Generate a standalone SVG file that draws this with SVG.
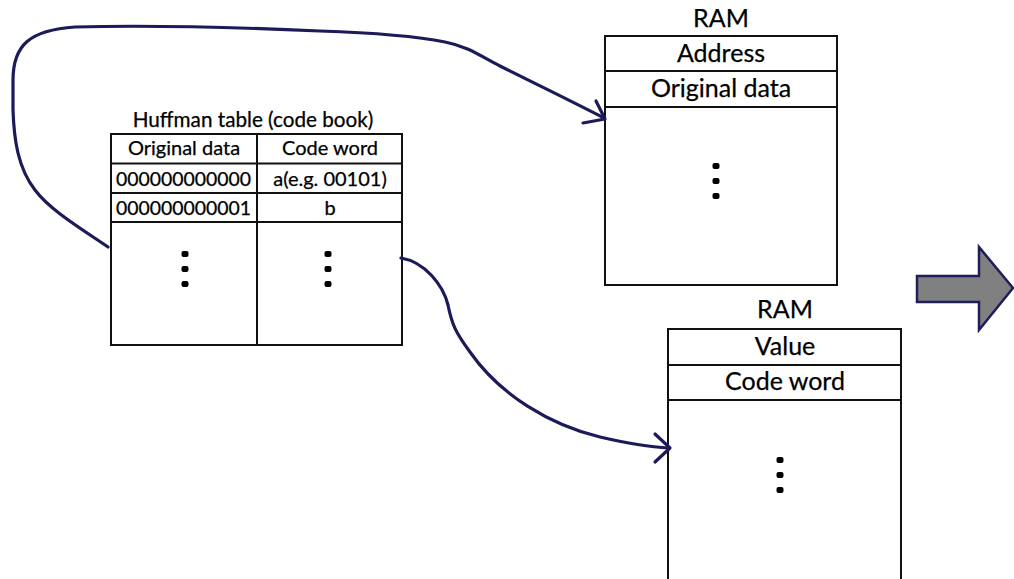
<svg xmlns="http://www.w3.org/2000/svg" width="1014" height="579" viewBox="0 0 1014 579">
<style>
.box{fill:#fff;stroke:#111;stroke-width:2}
.ln{stroke:#111;stroke-width:2;fill:none}
.t{font-family:Lato,"Liberation Sans",sans-serif;fill:#000;text-anchor:middle;stroke:#000;stroke-width:0.25}
.s{font-size:20px}
.n{font-size:19.4px}
.b{font-size:25px}
.dot{fill:#000}
.con{fill:none;stroke:#1c1a58;stroke-width:3.2;stroke-linecap:round;stroke-linejoin:round}
</style>
<defs>
<g id="dots"><rect x="-3.5" y="-3" width="7" height="6" rx="2" class="dot"/><rect x="-3.5" y="12" width="7" height="6" rx="2" class="dot"/><rect x="-3.5" y="27" width="7" height="6" rx="2" class="dot"/></g>
</defs>
<g id="huffman">
<text class="t" x="253" y="127" font-size="20.7">Huffman table (code book)</text>
<rect class="box" x="111" y="134" width="291" height="211"/>
<path class="ln" d="M111,163.5H402M111,193H402M111,222H402M257,134V345"/>
<text class="t s" x="184" y="155">Original data</text>
<text class="t s" x="330" y="155">Code word</text>
<text class="t n" x="183.5" y="186">000000000000</text>
<text class="t s" x="330" y="186">a(e.g. 00101)</text>
<text class="t n" x="183.5" y="215">000000000001</text>
<text class="t s" x="330" y="215">b</text>
<use href="#dots" x="185" y="254"/>
<use href="#dots" x="328" y="254"/>
</g>
<g id="ram1">
<text class="t b" x="721" y="27">RAM</text>
<rect class="box" x="605" y="36" width="232" height="249"/>
<path class="ln" d="M605,71H837M605,107H837"/>
<text class="t b" x="721" y="62">Address</text>
<text class="t b" x="721" y="97">Original data</text>
<use href="#dots" x="716" y="166"/>
</g>
<g id="ram2">
<text class="t b" x="785" y="318">RAM</text>
<rect class="box" x="668" y="329" width="233" height="260"/>
<path class="ln" d="M668,365H901M668,400H901"/>
<text class="t b" x="785" y="355">Value</text>
<text class="t b" x="785" y="390">Code word</text>
<use href="#dots" x="780" y="460"/>
</g>
<g id="bigarrow">
<polygon points="917,276 979,276 979,247 1013,288 979,330 979,302 917,302" fill="#808080" stroke="#1f1d5c" stroke-width="2.5" stroke-linejoin="miter"/>
</g>
<g id="connectors">
<path class="con" d="M108,247 C80,228 50,210 35,190 C18,168 14,140 13,110 L13,80 C13,45 30,30 75,27 C150,25 230,27 320,31 C380,33 420,37 445,42 C470,47 480,56 500,66 C540,86 575,103 604,118"/>
<path class="con" d="M596,101 L605,119 L583,123"/>
<path class="con" d="M401,258 C425,262 443,285 448,305 C452,325 456,333 470,352 C500,395 550,425 600,437 C630,444 650,447 669,448"/>
<path class="con" d="M655,434 L670,448 L655,462"/>
</g>
</svg>
